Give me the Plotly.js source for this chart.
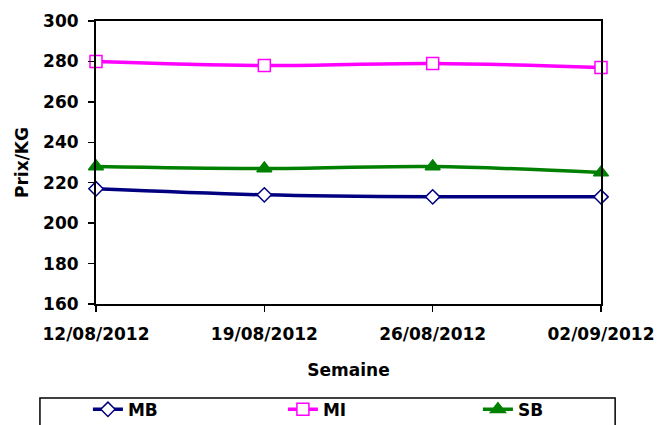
<!DOCTYPE html>
<html>
<head>
<meta charset="utf-8">
<script src="https://cdn.plot.ly/plotly-3.0.1.min.js"></script>
<style>html,body{margin:0;padding:0;background:#fff;}#chart{width:670px;height:425px;}</style>
</head>
<body>
<div id="chart"></div>
<script>
var weeks = ["12/08/2012", "19/08/2012", "26/08/2012", "02/09/2012"];
var mbValues = [217, 214, 213, 213];
var miValues = [280, 278, 279, 277];
var sbValues = [228, 227, 228, 225];
var yTicks = [160, 180, 200, 220, 240, 260, 280, 300];

var FONT = "DejaVu Sans, Liberation Sans, Arial, sans-serif";

function series(name, y, color, symbol, size, fill) {
  return {
    type: "scatter", mode: "lines+markers", name: name,
    x: weeks, y: y, cliponaxis: false,
    line: {color: color, width: 3.5, shape: "spline", smoothing: 1},
    marker: {symbol: symbol, size: size, color: fill, line: {color: color, width: 1.5}}
  };
}

var data = [
  series("MB", mbValues, "#000080", "diamond", 11, "#ffffff"),
  series("MI", miValues, "#FF00FF", "square", 12, "#ffffff"),
  series("SB", sbValues, "#008000", "triangle-up", 13, "#008000")
];

var layout = {
  width: 670, height: 425,
  margin: {l: 96, r: 69, t: 21, b: 121, autoexpand: false},
  paper_bgcolor: "#ffffff", plot_bgcolor: "#ffffff",
  font: {family: FONT, size: 17, color: "#000", weight: "bold"},
  showlegend: true,
  xaxis: {
    type: "category", range: [0, 3],
    showline: true, linecolor: "#000", linewidth: 2, mirror: true,
    showgrid: false, zeroline: false,
    ticks: "outside", ticklen: 6, tickwidth: 1.5, tickcolor: "#000",
    ticklabelstandoff: 8,
    tickfont: {family: FONT, size: 17, weight: "bold"},
    title: {text: "Semaine", font: {family: FONT, size: 17, weight: "bold"}, standoff: 21}
  },
  yaxis: {
    range: [160, 300], tickvals: yTicks,
    showline: true, linecolor: "#000", linewidth: 2, mirror: true,
    showgrid: false, zeroline: false,
    ticks: "outside", ticklen: 6, tickwidth: 1.5, tickcolor: "#000",
    ticklabelstandoff: 6,
    tickfont: {family: FONT, size: 17, weight: "bold"},
    title: {text: "Prix/KG", font: {family: FONT, size: 17, weight: "bold"}, standoff: 10}
  },
  legend: {
    orientation: "h", x: -0.016, xanchor: "left", y: -0.31, yanchor: "top",
    bgcolor: "rgba(0,0,0,0)", borderwidth: 0,
    entrywidth: 150, entrywidthmode: "pixels",
    font: {family: FONT, size: 17, weight: "bold"}
  },
  shapes: [{
    type: "rect", xref: "paper", yref: "paper",
    x0: -0.111, x1: 1.028, y0: -0.48, y1: -0.332,
    line: {color: "#000", width: 1.5}, fillcolor: "rgba(0,0,0,0)"
  }]
};

Plotly.newPlot("chart", data, layout, {displayModeBar: false, staticPlot: true});
</script>
</body>
</html>
